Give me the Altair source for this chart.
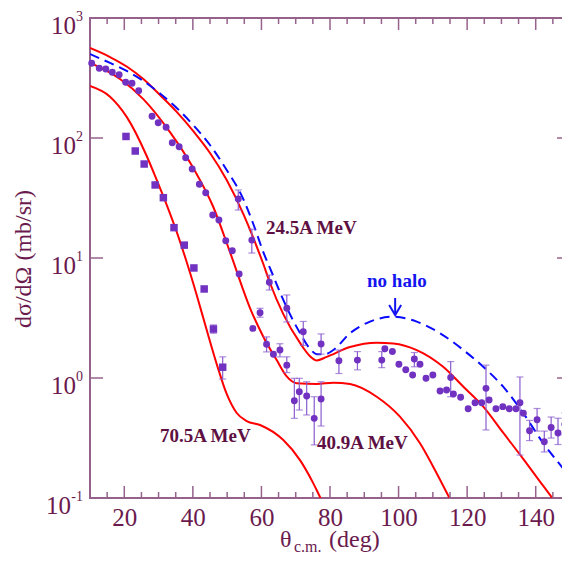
import altair as alt
import pandas as pd

# ---------------- data ----------------
# 40.9A MeV data (circles)
deg_409 = [10.5, 12.7, 14.6, 16.5, 18.5, 20.4, 22.25, 24.2, 28.1, 29.9, 32.2, 34.0, 36.0, 37.9,
           39.8, 41.9, 43.75, 45.8, 47.6, 49.6, 51.5, 53.5, 57.5, 59.6, 61.5, 63.5, 65.4, 67.4,
           69.6, 71.05, 73.2, 75.4, 77.4]
val_409 = [419, 381, 376, 353, 337, 291, 286, 248, 152, 134, 123, 91.4, 84.6, 68.5,
           55.2, 41.1, 35.0, 22.8, 20.7, 13.9, 11.5, 7.36, 2.59, 3.50, 1.91, 1.58, 1.71, 1.28,
           0.647, 0.769, 0.708, 0.461, 0.668]
# 24.5A MeV data (circles)
deg_245 = [53.25, 57.2, 62.3, 67.4, 72.2, 77.4, 82.6, 88.0, 95.1, 96.0, 98.2, 100.1, 102.1,
           104.1, 104.6, 106.25, 108.0, 110.0, 112.1, 114.0, 115.2, 116.0, 118.1, 120.3, 122.3,
           124.25, 125.5, 126.4, 128.4, 130.4, 132.3, 134.25, 135.4, 136.4, 138.2, 140.4, 142.5,
           144.5, 146.5, 148.5]
val_245 = [31.0, 14.1, 6.27, 3.81, 2.43, 1.92, 1.39, 1.41, 1.41, 1.75, 1.66, 1.30, 1.17,
           1.06, 1.44, 1.30, 0.994, 1.06, 0.780, 0.794, 1.01, 0.736, 0.690, 0.555, 0.623,
           0.623, 0.820, 0.656, 0.555, 0.577, 0.555, 0.555, 0.623, 0.508, 0.364, 0.449, 0.294,
           0.387, 0.348, 0.412]
# 70.5A MeV data (squares)
deg_705 = [20.5, 23.2, 25.8, 29.0, 31.4, 34.5, 37.5, 40.3, 43.3, 46.0, 48.7]
val_705 = [103, 77.9, 60.7, 40.6, 31.8, 17.9, 12.8, 8.26, 5.52, 2.56, 1.23]

# error bars
err_deg = [59.6, 61.5, 65.4, 67.4, 69.6, 71.05, 73.2, 75.4, 77.4,
           53.25, 57.2, 62.3, 67.4, 72.2, 77.4, 82.6, 88.0, 95.1, 104.6, 115.2, 125.5, 135.4,
           138.2, 140.4, 142.5, 144.5, 146.5, 148.5,
           46.0, 48.7]
err_lo = [3.21, 1.65, 1.50, 1.11, 0.461, 0.541, 0.492, 0.277, 0.398,
          25.1, 11.0, 5.41, 2.93, 1.87, 1.58, 1.09, 1.17, 1.22, 1.24, 0.698, 0.369, 0.228,
          0.301, 0.361, 0.242, 0.316, 0.279, 0.335,
          2.36, 0.98]
err_hi = [3.81, 2.20, 1.93, 1.50, 0.994, 0.994, 0.931, 0.698, 0.931,
          36.9, 17.4, 7.21, 4.92, 2.96, 2.33, 1.71, 1.66, 1.66, 1.63, 1.37, 1.28, 1.02,
          0.443, 0.557, 0.361, 0.473, 0.462, 0.511,
          2.77, 1.50]

# calculated curves
c245_deg = [10.0, 15.83, 20.7, 25.55, 30.42, 35.29, 40.13, 45.0, 49.87, 54.71, 57.63, 60.55,
            62.5, 66.38, 71.25, 74.17, 76.12, 79.04, 85.83, 93.62, 98.46, 105.3, 113.0, 118.9,
            124.7, 130.5, 136.4, 142.2, 145.3]
c245_val = [562, 473, 394, 310, 228, 165, 114, 75.0, 44.7, 23.3, 14.7, 8.91,
            6.19, 3.41, 1.96, 1.52, 1.40, 1.50, 1.81, 1.97, 1.94, 1.71, 1.24, 0.846,
            0.577, 0.350, 0.211, 0.126, 0.096]
c409_deg = [10.0, 14.38, 18.75, 25.55, 33.33, 40.13, 45.96, 50.83, 56.67, 60.55, 64.45, 67.37,
            70.29, 76.12, 81.0, 85.83, 93.62, 100.4, 106.25, 111.1, 115.0]
c409_val = [422, 369, 310, 211, 112, 56.2, 26.6, 11.2, 3.83, 2.21, 1.41, 1.03,
            0.904, 0.891, 0.914, 0.891, 0.698, 0.476, 0.286, 0.161, 0.098]
c705_deg = [10.0, 15.83, 20.7, 26.54, 29.45, 32.37, 35.29, 38.2, 41.12, 44.04, 46.95, 49.87,
            52.79, 55.7, 59.6, 66.38, 71.25, 75.1, 77.08, 78.25]
c705_val = [271, 221, 150, 70.8, 44.7, 27.7, 16.5, 9.26, 4.92, 2.51, 1.31, 0.736,
            0.511, 0.438, 0.406, 0.304, 0.207, 0.133, 0.102, 0.0875]
nohalo_deg = [10.0, 15.83, 20.7, 25.55, 30.42, 35.29, 40.13, 45.0, 49.87, 54.71, 57.63, 60.55,
              63.46, 66.38, 71.25, 74.17, 76.12, 78.54, 80.96, 85.83, 91.67, 98.46, 105.3,
              112.1, 118.9, 124.7, 130.5, 136.4, 142.2, 149.0, 150.0]
nohalo_val = [501, 422, 362, 299, 235, 178, 128, 87.4, 54.1, 31.0, 19.2, 11.2,
              7.08, 4.47, 2.37, 1.75, 1.58, 1.58, 1.71, 2.36, 2.95, 3.24, 2.95,
              2.36, 1.71, 1.24, 0.846, 0.508, 0.286, 0.161, 0.147]

# annotations
label_text = ["24.5A MeV", "40.9A MeV", "70.5A MeV"]
label_deg = [61.3, 76.2, 30.4]
label_val = [15.85, 0.256, 0.293]
halo_text = ["no halo"]
halo_deg = [90.8]
halo_val = [5.73]
arrow_deg = [99.0, 99.0, 97.25, 99.0, 100.75]
arrow_val = [4.64, 3.35, 4.06, 3.35, 4.06]
arrow_part = ["shaft", "shaft", "head", "head", "head"]
arrow_seq = [0, 1, 0, 1, 2]

x_major = [20, 40, 60, 80, 100, 120, 140]
x_minor = [15, 25, 30, 35, 45, 50, 55, 65, 70, 75, 85, 90, 95, 105, 110, 115, 125, 130, 135, 145]
y_major = [0.1, 1, 10, 100, 1000]
y_exp = ["-1", "0", "1", "2", "3"]

# ---------------- styling ----------------
AXIS_C = "#96628c"
TEXT_C = "#6b1a4e"
LAB_C = "#5e1043"
PT_C = "#7131c1"
ERR_C = "#8a5cce"
SERIF = "Liberation Serif"

xs = alt.Scale(domain=[10, 150], nice=False, zero=False)
ys = alt.Scale(type="log", domain=[0.1, 1000], nice=False)
xaxis = alt.Axis(values=x_major, ticks=False, tickSize=0, domain=False, grid=False,
                 labelFont=SERIF, labelFontSize=25, labelColor=TEXT_C, labelPadding=7,
                 title=None, labelFlush=False)


def X(f="deg"):
    return alt.X(f, type="quantitative", scale=xs, axis=xaxis)


def Y(f="val"):
    return alt.Y(f, type="quantitative", scale=ys, axis=None)


curves = pd.DataFrame({
    "deg": c245_deg + c409_deg + c705_deg,
    "val": c245_val + c409_val + c705_val,
    "curve": ["24.5"] * len(c245_deg) + ["40.9"] * len(c409_deg) + ["70.5"] * len(c705_deg),
})
nohalo = pd.DataFrame({"deg": nohalo_deg, "val": nohalo_val})
circ = pd.DataFrame({"deg": deg_409 + deg_245, "val": val_409 + val_245})
sq = pd.DataFrame({"deg": deg_705, "val": val_705})
err = pd.DataFrame({"deg": err_deg, "lo": err_lo, "hi": err_hi})
labels = pd.DataFrame({"deg": label_deg, "val": label_val, "t": label_text})
halo = pd.DataFrame({"deg": halo_deg, "val": halo_val, "t": halo_text})
arrow = pd.DataFrame({"deg": arrow_deg, "val": arrow_val, "part": arrow_part, "seq": arrow_seq})
xmaj = pd.DataFrame({"deg": x_major})
xmin = pd.DataFrame({"deg": x_minor})
ymaj = pd.DataFrame({"val": y_major, "e": y_exp})

red = alt.Chart(curves).mark_line(color="#ff0000", strokeWidth=2, clip=True,
                                  interpolate="monotone").encode(
    x=X(), y=Y(), detail="curve:N", order="deg:Q")
blue = alt.Chart(nohalo).mark_line(color="#0a0aff", strokeWidth=2, strokeDash=[10, 6],
                                   clip=True, interpolate="monotone").encode(x=X(), y=Y())

ebar = alt.Chart(err).mark_rule(color=ERR_C, strokeWidth=1.2).encode(
    x=X(), y=Y("lo"), y2="hi")
ecap_lo = alt.Chart(err).mark_tick(color=ERR_C, orient="horizontal", size=7, thickness=1.2).encode(
    x=X(), y=Y("lo"))
ecap_hi = alt.Chart(err).mark_tick(color=ERR_C, orient="horizontal", size=7, thickness=1.2).encode(
    x=X(), y=Y("hi"))

pts_c = alt.Chart(circ).mark_point(shape="circle", filled=True, size=48, opacity=1,
                                   color=PT_C).encode(x=X(), y=Y())
pts_s = alt.Chart(sq).mark_point(shape="square", filled=True, size=56, opacity=1,
                                 color=PT_C).encode(x=X(), y=Y())

lab = alt.Chart(labels).mark_text(font=SERIF, fontWeight="bold", fontSize=19, color=LAB_C,
                                  align="left", baseline="alphabetic").encode(
    x=X(), y=Y(), text="t:N")
hal = alt.Chart(halo).mark_text(font=SERIF, fontWeight="bold", fontSize=19, color="#1414f0",
                                align="left", baseline="alphabetic").encode(
    x=X(), y=Y(), text="t:N")
arr = alt.Chart(arrow).mark_line(color="#1414f0", strokeWidth=2).encode(
    x=X(), y=Y(), detail="part:N", order="seq:Q")

# frame ticks (inward)
tick_top_maj = alt.Chart(xmaj).mark_rule(color=AXIS_C, strokeWidth=1.5).encode(
    x=X(), y=alt.value(0), y2=alt.value(12))
tick_top_min = alt.Chart(xmin).mark_rule(color=AXIS_C, strokeWidth=1.5).encode(
    x=X(), y=alt.value(0), y2=alt.value(6))
tick_bot_maj = alt.Chart(xmaj).mark_rule(color=AXIS_C, strokeWidth=1.5).encode(
    x=X(), y=alt.value(480), y2=alt.value(468))
tick_bot_min = alt.Chart(xmin).mark_rule(color=AXIS_C, strokeWidth=1.5).encode(
    x=X(), y=alt.value(480), y2=alt.value(474))
tick_left = alt.Chart(ymaj).mark_rule(color=AXIS_C, strokeWidth=1.5).encode(
    y=Y(), x=alt.value(0), x2=alt.value(13))
tick_right = alt.Chart(ymaj).mark_rule(color=AXIS_C, strokeWidth=1.5).encode(
    y=Y(), x=alt.value(480), x2=alt.value(467))

# y tick labels 10^n
ten_a = alt.Chart(ymaj).transform_filter("datum.val >= 1").mark_text(
    font=SERIF, fontSize=25, color=TEXT_C, align="right", baseline="alphabetic", dy=16).encode(
    y=Y(), x=alt.value(-14), text=alt.value("10"))
ten_b = alt.Chart(ymaj).transform_filter("datum.val < 1").mark_text(
    font=SERIF, fontSize=25, color=TEXT_C, align="right", baseline="alphabetic", dy=16).encode(
    y=Y(), x=alt.value(-19), text=alt.value("10"))
expo = alt.Chart(ymaj).mark_text(font=SERIF, fontSize=14, color=TEXT_C, align="right",
                                 baseline="alphabetic", dy=3).encode(
    y=Y(), x=alt.value(-7), text="e:N")

# axis titles
ytitle = alt.Chart(ymaj).transform_filter("datum.val == 1").mark_text(
    font=SERIF, fontSize=24, color=TEXT_C, angle=270, align="center", baseline="middle").encode(
    x=alt.value(-66), y=alt.value(241), text=alt.value("dσ/dΩ (mb/sr)"))
xt1 = alt.Chart(ymaj).transform_filter("datum.val == 1").mark_text(
    font=SERIF, fontSize=24, color=TEXT_C, align="left", baseline="alphabetic").encode(
    x=alt.value(190), y=alt.value(529), text=alt.value("θ"))
xt2 = alt.Chart(ymaj).transform_filter("datum.val == 1").mark_text(
    font=SERIF, fontSize=16, color=TEXT_C, align="left", baseline="alphabetic").encode(
    x=alt.value(204), y=alt.value(534), text=alt.value("c.m."))
xt3 = alt.Chart(ymaj).transform_filter("datum.val == 1").mark_text(
    font=SERIF, fontSize=24, color=TEXT_C, align="left", baseline="alphabetic").encode(
    x=alt.value(239), y=alt.value(529), text=alt.value("(deg)"))

chart = alt.layer(
    red, blue, ebar, ecap_lo, ecap_hi, pts_c, pts_s, lab, hal, arr,
    tick_top_maj, tick_top_min, tick_bot_maj, tick_bot_min, tick_left, tick_right,
    ten_a, ten_b, expo, ytitle, xt1, xt2, xt3,
).properties(
    width=480, height=480,
    autosize=alt.AutoSizeParams(type="none"),
    padding={"left": 82, "top": 10, "right": -8, "bottom": 58},
    background="white",
).configure_view(stroke=AXIS_C, strokeWidth=2)

chart.save("out.html", embed_options={"renderer": "svg", "actions": False})
